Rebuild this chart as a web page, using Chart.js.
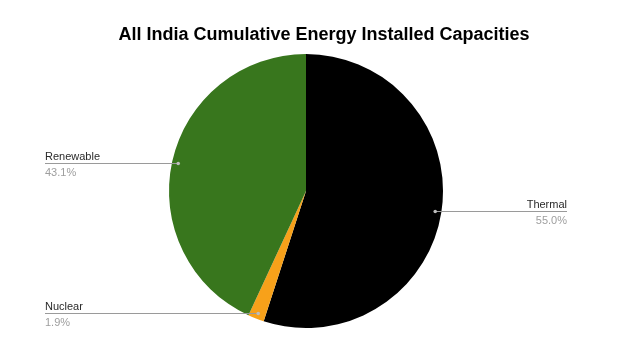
<!DOCTYPE html>
<html>
<head>
<meta charset="utf-8">
<script src="https://cdn.jsdelivr.net/npm/chart.js@4"></script>
<style>
  html, body { margin: 0; padding: 0; background: #fff; }
  #wrap { width: 620px; height: 358px; }
</style>
</head>
<body>
<div id="wrap"><canvas id="pie-chart"></canvas></div>
<script>
const chartTitle = 'All India Cumulative Energy Installed Capacities';
const labels = ['Thermal', 'Nuclear', 'Renewable'];
const shares = [55.0, 1.9, 43.1];
const colors = ['#000000', '#f7a11a', '#38761d'];
// which side each label sits on (drawn by the plugin below)
const sides = ['right', 'left', 'left'];

// title + leader line labels, positions taken from the arcs chart.js computed
const calloutPlugin = {
  id: 'callouts',
  afterDraw(chart) {
    const ctx = chart.ctx;
    ctx.save();
    ctx.fillStyle = '#000';
    ctx.font = 'bold 18px "Liberation Sans", Arial, sans-serif';
    ctx.textAlign = 'center';
    ctx.textBaseline = 'alphabetic';
    ctx.fillText(chartTitle, 324, 40);

    const meta = chart.getDatasetMeta(0);
    meta.data.forEach((arc, i) => {
      const { x, y, startAngle, endAngle, outerRadius } = arc.getProps(['x', 'y', 'startAngle', 'endAngle', 'outerRadius'], true);
      const mid = (startAngle + endAngle) / 2;
      const px = x + Math.cos(mid) * outerRadius * 0.955;
      const py = Math.round(y + Math.sin(mid) * outerRadius * 0.955) + 0.5;
      const endX = sides[i] === 'left' ? 45 : 567;

      ctx.strokeStyle = '#9a9a9a';
      ctx.lineWidth = 1;
      ctx.beginPath();
      ctx.moveTo(px, py);
      ctx.lineTo(endX, py);
      ctx.stroke();

      ctx.fillStyle = '#bdbdbd';
      ctx.beginPath();
      ctx.arc(px, py, 1.8, 0, Math.PI * 2);
      ctx.fill();

      ctx.textAlign = sides[i] === 'left' ? 'left' : 'right';
      ctx.font = '11px "Liberation Sans", Arial, sans-serif';
      ctx.fillStyle = '#2a2a2a';
      ctx.fillText(labels[i], endX, py - 4);
      ctx.fillStyle = '#9e9e9e';
      ctx.fillText(shares[i].toFixed(1) + '%', endX, py + 12);
    });
    ctx.restore();
  }
};

new Chart(document.getElementById('pie-chart'), {
  type: 'pie',
  data: {
    labels: labels,
    datasets: [{
      data: shares,
      backgroundColor: colors,
      borderWidth: 0,
      hoverOffset: 0
    }]
  },
  options: {
    responsive: true,
    maintainAspectRatio: false,
    animation: false,
    layout: {
      padding: { top: 54, bottom: 30, left: 20, right: 28 }
    },
    plugins: {
      legend: { display: false },
      title: { display: false },
      tooltip: { enabled: false }
    }
  },
  plugins: [calloutPlugin]
});
</script>
</body>
</html>
